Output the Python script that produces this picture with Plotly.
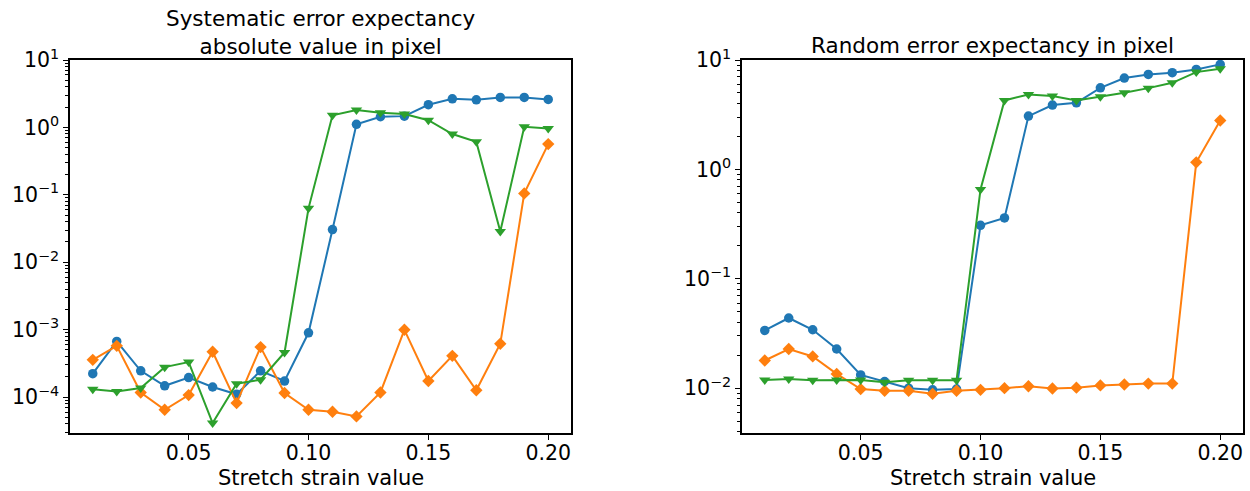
import plotly.graph_objects as go

strain = [0.01, 0.02, 0.03, 0.04, 0.05, 0.06, 0.07, 0.08, 0.09, 0.10,
          0.11, 0.12, 0.13, 0.14, 0.15, 0.16, 0.17, 0.18, 0.19, 0.20]

# Systematic error (left panel)
sys_blue = [2.22e-4, 6.68e-4, 2.45e-4, 1.47e-4, 1.95e-4, 1.41e-4, 1.10e-4, 2.45e-4, 1.73e-4, 8.98e-4,
            3.05e-2, 1.11, 1.44, 1.47, 2.17, 2.66, 2.57, 2.78, 2.78, 2.60]
sys_orange = [3.57e-4, 5.76e-4, 1.17e-4, 6.49e-5, 1.07e-4, 4.70e-4, 8.15e-5, 5.51e-4, 1.15e-4, 6.49e-5,
              6.06e-5, 5.17e-5, 1.17e-4, 9.95e-4, 1.73e-4, 4.09e-4, 1.26e-4, 6.17e-4, 0.105, 0.566]
sys_green = [1.31e-4, 1.21e-4, 1.36e-4, 2.78e-4, 3.30e-4, 4.12e-5, 1.58e-4, 1.81e-4, 4.59e-4, 0.063,
             1.51, 1.81, 1.65, 1.58, 1.28, 0.797, 0.613, 0.0285, 1.02, 0.967]

# Random error (right panel)
rnd_blue = [0.0337, 0.0438, 0.0342, 0.0228, 0.0132, 0.0115, 0.0100, 0.00966, 0.0098, 0.308,
            0.360, 3.07, 3.87, 4.06, 5.57, 6.84, 7.38, 7.65, 8.20, 9.12]
rnd_orange = [0.0179, 0.0228, 0.0195, 0.0135, 0.0098, 0.00946, 0.00946, 0.00887, 0.00946, 0.00965,
              0.0100, 0.0104, 0.00993, 0.0101, 0.0106, 0.0108, 0.0110, 0.0110, 1.16, 2.80]
rnd_green = [0.0119, 0.0121, 0.0118, 0.0119, 0.0119, 0.0113, 0.0118, 0.0118, 0.0118, 0.655,
             4.27, 4.84, 4.68, 4.27, 4.61, 5.02, 5.53, 6.19, 7.75, 8.31]

title_left = "Systematic error expectancy<br>absolute value in pixel"
title_right = "Random error expectancy in pixel"
xlabel = "Stretch strain value"
x_ticks = [0.05, 0.10, 0.15, 0.20]
x_ticklabels = ["0.05", "0.10", "0.15", "0.20"]
y_ticks_left = [1e-4, 1e-3, 1e-2, 1e-1, 1e0, 1e1]
y_ticklabels_left = ["10<sup>\u22124</sup>", "10<sup>\u22123</sup>", "10<sup>\u22122</sup>",
                     "10<sup>\u22121</sup>", "10<sup>0</sup>", "10<sup>1</sup>"]
y_ticks_right = [1e-2, 1e-1, 1e0, 1e1]
y_ticklabels_right = ["10<sup>\u22122</sup>", "10<sup>\u22121</sup>", "10<sup>0</sup>", "10<sup>1</sup>"]
minor_vals = [m * 10.0 ** e for e in range(-5, 1) for m in range(2, 10)]

BLUE, ORANGE, GREEN = "#1f77b4", "#ff7f0e", "#2ca02c"
FONT = "DejaVu Sans"
W, H = 1250, 491
TICK_FS = 20.5
TITLE_FS = 21.5
LABEL_FS = 21

fig = go.Figure()

def add_series(xa, ya, blue, orange, green):
    fig.add_trace(go.Scatter(x=strain, y=blue, mode="lines+markers", xaxis=xa, yaxis=ya,
                             line=dict(color=BLUE, width=2),
                             marker=dict(symbol="circle", size=9.5, color=BLUE), showlegend=False))
    fig.add_trace(go.Scatter(x=strain, y=orange, mode="lines+markers", xaxis=xa, yaxis=ya,
                             line=dict(color=ORANGE, width=2),
                             marker=dict(symbol="diamond", size=9.5, color=ORANGE), showlegend=False))
    fig.add_trace(go.Scatter(x=strain, y=green, mode="lines+markers", xaxis=xa, yaxis=ya,
                             line=dict(color=GREEN, width=2),
                             marker=dict(symbol="triangle-down", size=10, color=GREEN), showlegend=False))

add_series("x", "y", sys_blue, sys_orange, sys_green)
add_series("x2", "y2", rnd_blue, rnd_orange, rnd_green)

def xaxis(domain, anchor):
    return dict(domain=domain, anchor=anchor, range=[0.0005, 0.2095], automargin=False,
                tickmode="array", tickvals=x_ticks, ticktext=x_ticklabels,
                ticks="outside", ticklen=5, tickwidth=1.3, tickcolor="black",
                ticklabelstandoff=-4,
                showline=True, linecolor="black", linewidth=1.5, mirror=True,
                showgrid=False, zeroline=False,
                tickfont=dict(family=FONT, size=TICK_FS, color="black"))

def yaxis(domain, anchor, rng, tv, tt):
    return dict(domain=domain, anchor=anchor, type="log", range=rng, automargin=False,
                tickmode="array", tickvals=tv, ticktext=tt,
                ticks="outside", ticklen=5, tickwidth=1.3, tickcolor="black",
                minor=dict(ticks="outside", ticklen=3, tickwidth=1, tickcolor="black",
                           tickmode="array", tickvals=minor_vals, showgrid=False),
                showline=True, linecolor="black", linewidth=1.5, mirror=True,
                showgrid=False, zeroline=False,
                tickfont=dict(family=FONT, size=TICK_FS, color="black"))

ydom = [1 - 433 / H, 1 - 60 / H]
fig.update_layout(
    width=W, height=H, autosize=False,
    margin=dict(l=0, r=0, t=0, b=0),
    paper_bgcolor="white", plot_bgcolor="white",
    font=dict(family=FONT, size=TICK_FS, color="black"),
    xaxis=xaxis([70 / W, 571 / W], "y"),
    yaxis=yaxis(ydom, "x", [-4.533, 1.0], y_ticks_left, y_ticklabels_left),
    xaxis2=xaxis([742 / W, 1243 / W], "y2"),
    yaxis2=yaxis(ydom, "x2", [-2.41, 1.0], y_ticks_right, y_ticklabels_right),
    annotations=[
        dict(text=title_left, x=320.5 / W, y=1 - 33 / H, xref="paper", yref="paper",
             xanchor="center", yanchor="middle", showarrow=False,
             font=dict(family=FONT, size=TITLE_FS, color="black")),
        dict(text=title_right, x=992.5 / W, y=1 - 45 / H, xref="paper", yref="paper",
             xanchor="center", yanchor="middle", showarrow=False,
             font=dict(family=FONT, size=TITLE_FS, color="black")),
        dict(text=xlabel, x=320.5 / W, y=1 - 478 / H, xref="paper", yref="paper",
             xanchor="center", yanchor="middle", showarrow=False,
             font=dict(family=FONT, size=LABEL_FS, color="black")),
        dict(text=xlabel, x=992.5 / W, y=1 - 478 / H, xref="paper", yref="paper",
             xanchor="center", yanchor="middle", showarrow=False,
             font=dict(family=FONT, size=LABEL_FS, color="black")),
    ],
)

fig.write_html("out.html", config={"displayModeBar": False},
               post_script="document.body.style.margin='0';document.body.style.padding='0';"
                           "document.body.style.overflow='hidden';")
